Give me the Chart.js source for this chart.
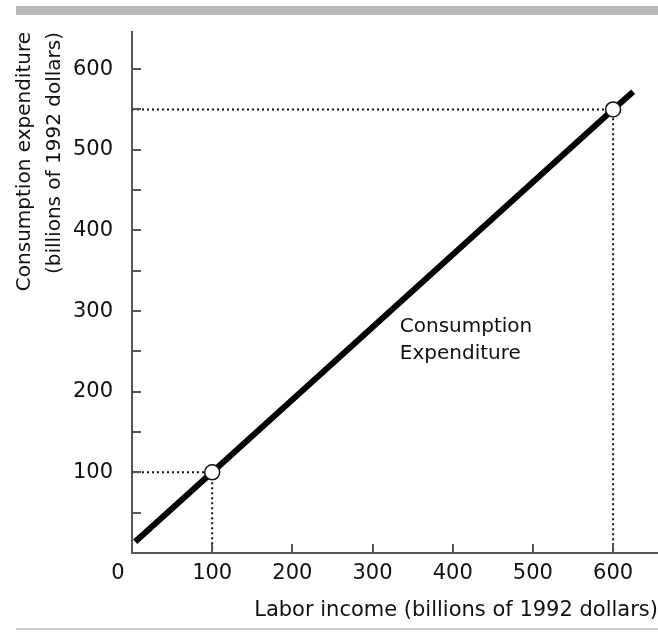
<!DOCTYPE html>
<html>
<head>
<meta charset="utf-8">
<script src="https://cdn.jsdelivr.net/npm/chart.js@4"></script>
<style>
  html, body { margin: 0; padding: 0; background: #fff; overflow: hidden; }
  #wrap { width: 658px; height: 632px; }
</style>
</head>
<body>
<div id="wrap"><canvas id="chart"></canvas></div>
<script>
// Consumption function: line through the two marked points
const lineX = [4, 100, 600, 625];
const lineY = [14, 100, 550, 572];
const pointX = [100, 600];
const pointY = [100, 550];
const xTicks = [0, 100, 200, 300, 400, 500, 600];
const yTicks = [100, 200, 300, 400, 500, 600];
const xTitle = 'Labor income (billions of 1992 dollars)';
const yTitle = ['Consumption expenditure', '(billions of 1992 dollars)'];
const curveLabel = ['Consumption', 'Expenditure'];

const FONT = '"DejaVu Sans", sans-serif';
const AXIS = '#555';

const toXY = (xs, ys) => xs.map((x, i) => ({ x, y: ys[i] }));

// dotted guides from each marked point to the axes
const guides = pointX.map((x, i) => ({
    data: [{ x: 0, y: pointY[i] }, { x, y: pointY[i] }, { x, y: 0 }],
    showLine: true,
    borderColor: '#111',
    borderWidth: 2,
    borderDash: [2, 3],
    pointRadius: 0,
    order: 3
}));

// grey rules, inward tick marks and extra text
const decor = {
    id: 'decor',
    beforeDraw(chart) {
        const ctx = chart.ctx;
        ctx.save();
        ctx.fillStyle = '#b9b9b9';
        ctx.fillRect(16, 6, 642, 9);
        ctx.fillStyle = '#cfcfcf';
        ctx.fillRect(16, 628, 642, 2);
        ctx.restore();
    },
    afterDraw(chart) {
        const { ctx, scales: { x, y } } = chart;
        ctx.save();
        ctx.strokeStyle = AXIS;
        ctx.lineWidth = 2;
        ctx.beginPath();
        y.ticks.forEach(t => {
            if (t.value === 0 || t.value % 50 !== 0) return;
            const py = Math.round(y.getPixelForValue(t.value));
            ctx.moveTo(x.left, py);
            ctx.lineTo(x.left + 9, py);
        });
        x.ticks.forEach(t => {
            if (t.value === 0 || t.value % 100 !== 0) return;
            const px = Math.round(x.getPixelForValue(t.value));
            ctx.moveTo(px, y.bottom);
            ctx.lineTo(px, y.bottom - 9);
        });
        ctx.stroke();

        ctx.fillStyle = '#111';
        ctx.font = '21px ' + FONT;
        ctx.textAlign = 'center';
        ctx.textBaseline = 'middle';
        ctx.fillText('0', x.getPixelForValue(0) - 14, y.bottom + 21);

        ctx.font = '20px ' + FONT;
        ctx.textAlign = 'left';
        ctx.fillText(curveLabel[0], x.getPixelForValue(334), y.getPixelForValue(280));
        ctx.fillText(curveLabel[1], x.getPixelForValue(334), y.getPixelForValue(280) + 27);
        ctx.restore();
    }
};

new Chart(document.getElementById('chart'), {
    type: 'scatter',
    data: {
        datasets: [
            {
                data: toXY(pointX, pointY),
                pointRadius: 7.5,
                pointBackgroundColor: '#fff',
                pointBorderColor: '#111',
                pointBorderWidth: 1.5,
                order: 1
            },
            {
                data: toXY(lineX, lineY),
                showLine: true,
                borderColor: '#000',
                borderWidth: 6,
                borderCapStyle: 'butt',
                pointRadius: 0,
                order: 2
            },
            ...guides
        ]
    },
    options: {
        responsive: true,
        maintainAspectRatio: false,
        animation: false,
        events: [],
        layout: { autoPadding: false, padding: { top: 32, right: 0, left: 0, bottom: 0 } },
        plugins: { legend: { display: false }, tooltip: { enabled: false } },
        scales: {
            x: {
                type: 'linear',
                min: 0,
                max: 656,
                afterFit: s => { s.height = 79; },
                afterBuildTicks: s => { s.ticks = xTicks.map(v => ({ value: v })); },
                grid: { display: false, drawTicks: false },
                border: { color: AXIS, width: 2 },
                ticks: {
                    color: '#111',
                    padding: 8,
                    font: { family: FONT, size: 21 },
                    callback: v => (v === 0 ? '' : v)
                },
                title: {
                    display: true,
                    text: xTitle,
                    align: 'end',
                    color: '#111',
                    font: { family: FONT, size: 21 },
                    padding: { top: 0, bottom: 9 }
                }
            },
            y: {
                type: 'linear',
                min: 0,
                max: 646,
                afterFit: s => { s.width = 132; },
                afterBuildTicks: s => {
                    const t = [];
                    for (let v = 0; v <= 600; v += 50) t.push({ value: v });
                    s.ticks = t;
                },
                grid: { display: false, drawTicks: false },
                border: { color: AXIS, width: 2 },
                ticks: {
                    color: '#111',
                    padding: 19,
                    font: { family: FONT, size: 21 },
                    callback: v => (yTicks.includes(v) ? v : '')
                },
                title: {
                    display: true,
                    text: yTitle,
                    align: 'end',
                    color: '#111',
                    font: { family: FONT, size: 20, lineHeight: 1.5 },
                    padding: { top: 10, bottom: 0 }
                }
            }
        }
    },
    plugins: [decor]
});
</script>
</body>
</html>
